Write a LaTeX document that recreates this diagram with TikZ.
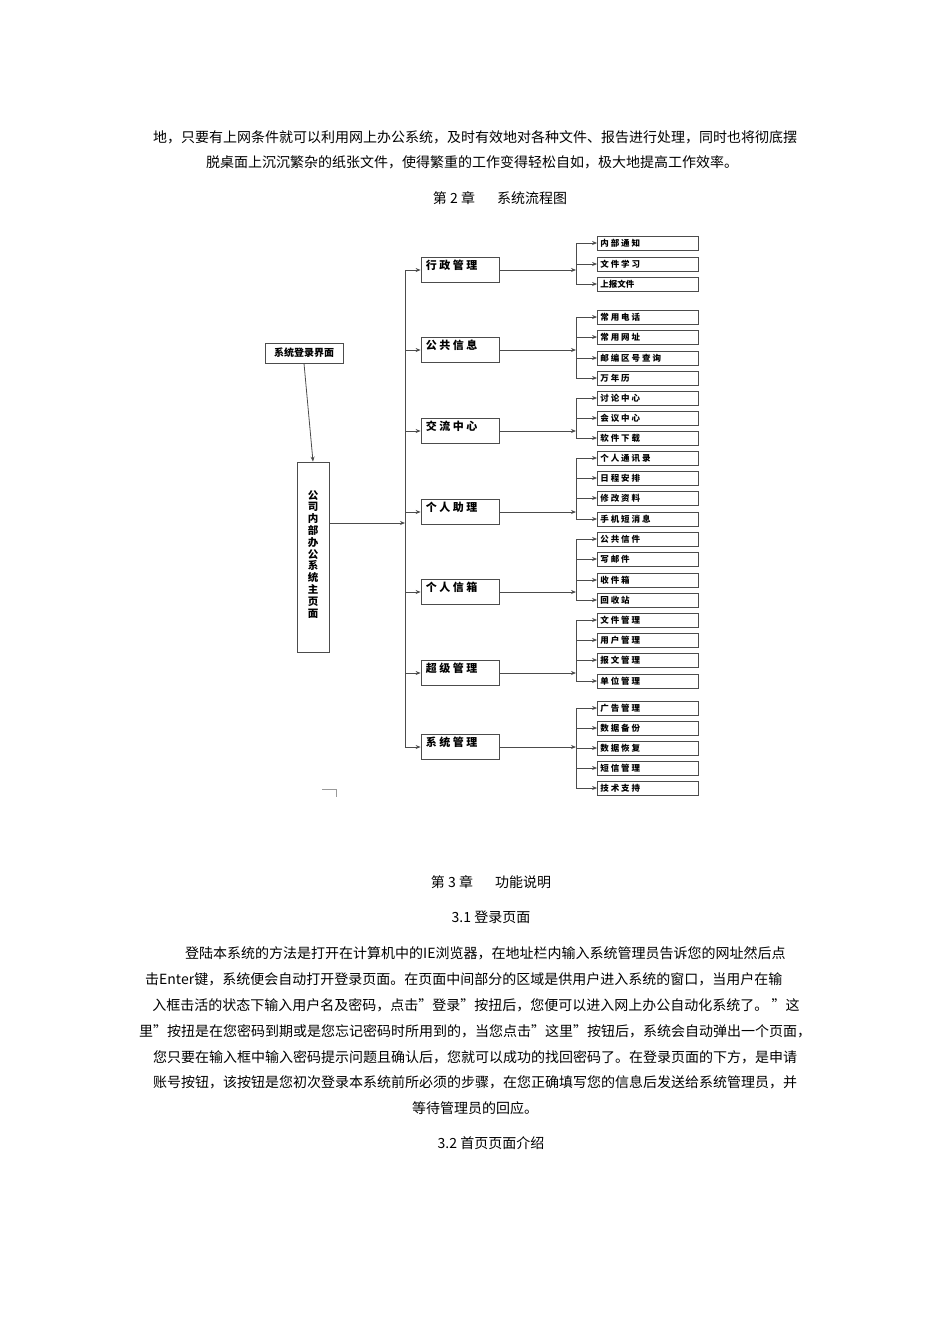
\documentclass[tikz,border=0pt]{standalone}
\usepackage{fontspec}
\setmainfont{Noto Sans CJK SC}
\usetikzlibrary{arrows.meta}
\tikzset{
  ln/.style={draw=black!70,line width=0.8pt},
  arr/.style={ln,-{Stealth[length=5pt,width=4pt]}},
  lvbox/.style={ln,minimum width=78pt,minimum height=25pt,inner sep=0pt},
  leafbox/.style={ln,minimum width=101pt,minimum height=14pt,inner sep=0pt},
  lvtxt/.style={font=\fontsize{11}{12}\selectfont\bfseries,anchor=north west,inner sep=0pt},
  leaftxt/.style={font=\fontsize{8.5}{9}\selectfont\bfseries,anchor=west,inner sep=0pt},
  body/.style={font=\fontsize{14}{16}\selectfont,inner sep=0pt}
}
\begin{document}
\begin{tikzpicture}[x=1pt,y=-1pt]
\useasboundingbox (0,0) rectangle (950,1344);
% text above
\node[body] (t1) at (475,137) {地，只要有上网条件就可以利用网上办公系统，及时有效地对各种文件、报告进行处理，同时也将彻底摆};
\node[body] (t2) at (472,162) {脱桌面上沉沉繁杂的纸张文件，使得繁重的工作变得轻松自如，极大地提高工作效率。};
\node[body] (h2) at (500,198) {第 2 章\hspace{22pt}系统流程图};
% login and main
\node[ln,minimum width=78pt,minimum height=20pt,inner sep=0pt,font=\fontsize{10}{10}\selectfont\bfseries] (login) at (304,353) {系统登录界面};
\node[ln,minimum width=32pt,minimum height=190pt,inner sep=0pt] (main) at (313,557) {};
\node[font=\fontsize{10.5}{11.8}\selectfont\bfseries,align=center,inner sep=0pt,anchor=north] (mtxt) at (313,490) {公\\司\\内\\部\\办\\公\\系\\统\\主\\页\\面};
\draw[arr] (login.south) -- (main.north);
\coordinate (T1) at (405,270);
\coordinate (T2) at (405,748);
\coordinate (Tm) at (405,523);
\draw[ln] (T1) -- (T2);
\draw[arr] (main.east |- Tm) -- (Tm);
% levels
\foreach \i/\y/\t in {1/270/行 政 管 理,2/350/公 共 信 息,3/431/交 流 中 心,4/512/个 人 助 理,5/592/个 人 信 箱,6/673/超 级 管 理,7/747/系 统 管 理}{
  \node[lvbox] (L\i) at (460,\y) {};
  \node[lvtxt] (Lt\i) at ([xshift=5pt,yshift=-3pt]L\i.north west) {\t};
  \coordinate (A\i) at (405,\y);
  \draw[arr] (A\i) -- (L\i.west);
  \coordinate (S\i) at (576,\y);
  \draw[arr] (L\i.east) -- (S\i);
}
% leaves
\newcommand{\leafgroup}[3]{%
  \foreach \y/\t [count=\j] in {#2}{
    \node[leafbox] (g#1-\j) at (648,\y) {};
    \node[leaftxt] (gt#1-\j) at ([xshift=3pt]g#1-\j.west) {\t};
    \coordinate (b#1-\j) at (576,\y);
    \draw[arr] (b#1-\j) -- (g#1-\j.west);
  }
  \draw[ln] (b#1-1) -- (b#1-#3);
}
\leafgroup{1}{243/内 部 通 知,264/文 件 学 习,284/上报文件}{3}
\leafgroup{2}{317/常 用 电 话,337/常 用 网 址,358/邮 编 区 号 查 询,378/万 年 历}{4}
\leafgroup{3}{398/讨 论 中 心,418/会 议 中 心,438/软 件 下 载}{3}
\leafgroup{4}{458/个 人 通 讯 录,478/日 程 安 排,498/修 改 资 料,519/手 机 短 消 息}{4}
\leafgroup{5}{539/公 共 信 件,559/写 邮 件,580/收 件 箱,600/回 收 站}{4}
\leafgroup{6}{620/文 件 管 理,640/用 户 管 理,660/报 文 管 理,681/单 位 管 理}{4}
\leafgroup{7}{708/广 告 管 理,728/数 据 备 份,748/数 据 恢 复,768/短 信 管 理,788/技 术 支 持}{5}
% small corner mark
\coordinate (m1) at (322,789);
\coordinate (m2) at (336,789);
\coordinate (m3) at (336,797);
\draw[draw=black!40,line width=0.6pt] (m1) -- (m2) -- (m3);
% text below
\node[body] (h3) at (491,882) {第 3 章\hspace{22pt}功能说明};
\node[body] (h31) at (491,917) {3.1 登录页面};
\node[body,anchor=west] (p1) at (185,953) {登陆本系统的方法是打开在计算机中的IE浏览器，在地址栏内输入系统管理员告诉您的网址然后点};
\node[body,anchor=west] (p2) at (145,979) {击Enter键，系统便会自动打开登录页面。在页面中间部分的区域是供用户进入系统的窗口，当用户在输};
\node[body] (p3) at (476,1005) {入框击活的状态下输入用户名及密码，点击"登录"按扭后，您便可以进入网上办公自动化系统了。 "这};
\node[body] (p4) at (475,1031) {里"按扭是在您密码到期或是您忘记密码时所用到的，当您点击"这里"按钮后，系统会自动弹出一个页面，};
\node[body] (p5) at (475,1057) {您只要在输入框中输入密码提示问题且确认后，您就可以成功的找回密码了。在登录页面的下方，是申请};
\node[body] (p6) at (475,1082) {账号按钮，该按钮是您初次登录本系统前所必须的步骤，在您正确填写您的信息后发送给系统管理员，并};
\node[body] (p7) at (475,1108) {等待管理员的回应。};
\node[body] (h32) at (491,1143) {3.2 首页页面介绍};
\end{tikzpicture}
\end{document}
